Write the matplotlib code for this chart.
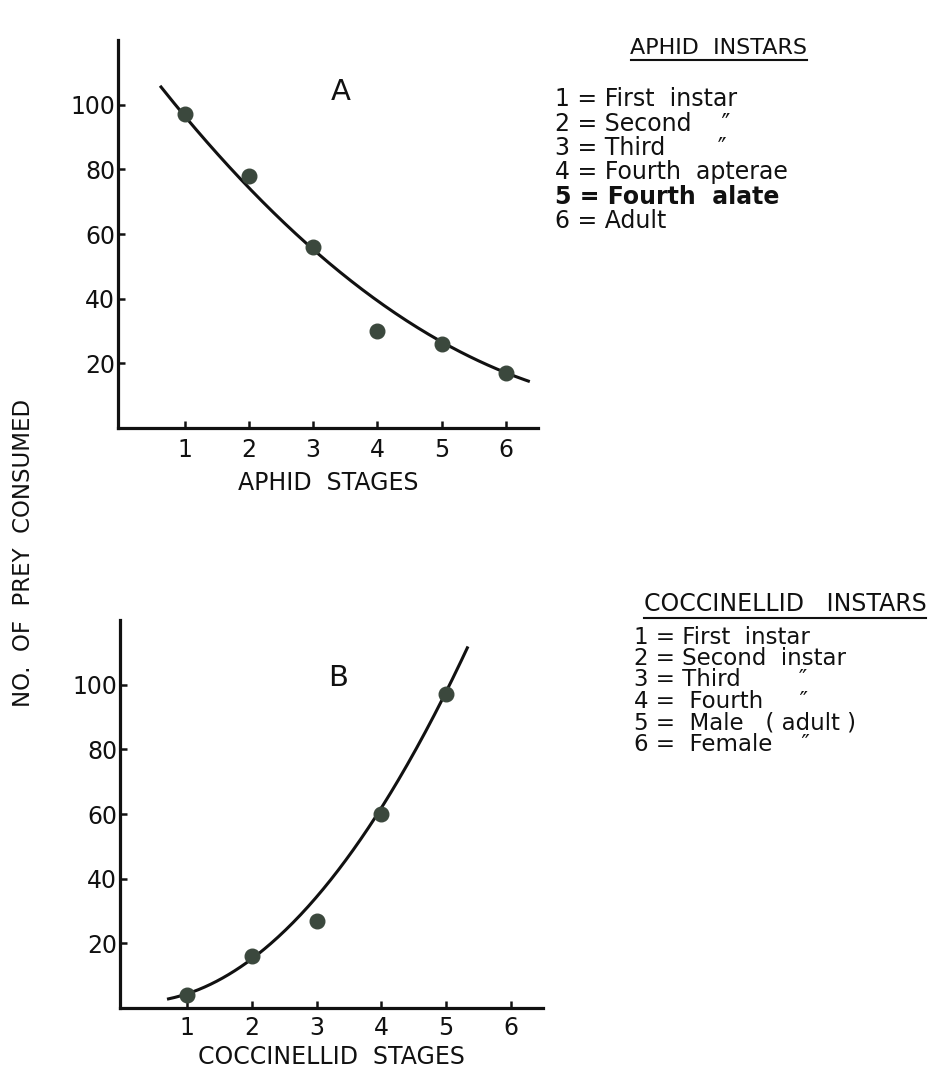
import numpy as np
import matplotlib.pyplot as plt
from matplotlib.lines import Line2D

# Values (stage -> number of prey consumed)
aphid_stage = [1, 2, 3, 4, 5, 6]
aphid_prey = [97, 78, 56, 30, 26, 17]
# points along the hand-drawn fitted curve in panel A
aphid_curve_x = [0.63, 1, 2, 3, 4, 5, 6, 6.35]
aphid_curve_y = [105, 96.5, 75, 55.5, 39, 26, 17, 15]

cocc_stage = [1, 2, 3, 4, 5]
cocc_prey = [4, 16, 27, 60, 97]
# points along the fitted curve in panel B
cocc_curve_x = [0.71, 1, 2, 3, 4, 5, 5.33]
cocc_curve_y = [2.4, 4.7, 15.7, 34, 62, 97, 112]

stage_ticks = [1, 2, 3, 4, 5, 6]
prey_ticks = [20, 40, 60, 80, 100]

aphid_key = ["1 = First  instar", "2 = Second    \u2033", "3 = Third       \u2033",
             "4 = Fourth  apterae", "5 = Fourth  alate", "6 = Adult"]
cocc_key = ["1 = First  instar", "2 = Second  instar", "3 = Third        \u2033",
            "4 =  Fourth     \u2033", "5 =  Male   ( adult )", "6 =  Female    \u2033"]

plt.rcParams['font.family'] = ['DejaVu Sans']
W, H = 951, 1074
fig = plt.figure(figsize=(W / 100, H / 100), dpi=100)
fig.patch.set_facecolor('white')


def box(l, t, r, b):
    return [l / W, 1 - b / H, (r - l) / W, (b - t) / H]


def fpos(x, y):
    return x / W, 1 - y / H


dot_color = '#3b483d'


def panel(ax, xs, ys, cx, cy, letter, lx, ly, xlabel, tpad, lpad):
    coef = np.polyfit(cx, cy, 2)
    xx = np.linspace(cx[0], cx[-1], 200)
    ax.plot(xx, np.polyval(coef, xx), color='#111111', lw=2.2, zorder=2)
    ax.plot(xs, ys, 'o', color=dot_color, ms=10.5, zorder=3)
    ax.set_xlim(-0.04, 6.5)
    ax.set_ylim(0, 120)
    for s in ['top', 'right']:
        ax.spines[s].set_visible(False)
    for s in ['left', 'bottom']:
        ax.spines[s].set_linewidth(2.3)
        ax.spines[s].set_color('#111111')
    ax.set_xticks(stage_ticks)
    ax.set_yticks(prey_ticks)
    ax.tick_params(axis='both', direction='in', length=5, width=1.8,
                   colors='#111111', labelsize=17)
    ax.tick_params(axis='x', pad=tpad)
    ax.tick_params(axis='y', pad=2)
    ax.set_xlabel(xlabel, fontsize=17, labelpad=lpad, color='#111111')
    ax.text(lx, ly, letter, fontsize=21, ha='center', va='center', color='#111111')
    ax.set_facecolor('none')


axA = fig.add_axes(box(118, 40, 538, 428))
panel(axA, aphid_stage, aphid_prey, aphid_curve_x, aphid_curve_y,
      'A', 3.43, 104, 'APHID  STAGES', 7, 7)

axB = fig.add_axes(box(120, 620, 543, 1008))
panel(axB, cocc_stage, cocc_prey, cocc_curve_x, cocc_curve_y,
      'B', 3.34, 102, 'COCCINELLID  STAGES', 6, 3)

fig.text(*fpos(24, 553), 'NO.  OF  PREY  CONSUMED', rotation=90, fontsize=16.5,
         ha='center', va='center', color='#111111')

# keys
headA = fig.text(*fpos(719, 48), 'APHID  INSTARS', fontsize=16, ha='center',
                 va='center', color='#111111')
for i, t in enumerate(aphid_key):
    fig.text(*fpos(555, 99 + i * 24.5), t, fontsize=17, ha='left', va='center',
             color='#111111', fontweight='bold' if i == 4 else 'normal')

headB = fig.text(*fpos(785, 604), 'COCCINELLID   INSTARS', fontsize=17, ha='center',
                 va='center', color='#111111')
for i, t in enumerate(cocc_key):
    fig.text(*fpos(634, 637 + i * 21.5), t, fontsize=16.5, ha='left', va='center',
             color='#111111')

fig.canvas.draw()
r = fig.canvas.get_renderer()
for h in [headA, headB]:
    bb = h.get_window_extent(r).transformed(fig.transFigure.inverted())
    fig.add_artist(Line2D([bb.x0, bb.x1], [bb.y0 - 0.002, bb.y0 - 0.002],
                          transform=fig.transFigure, color='#111111', lw=1.5))

fig.savefig('out.png', dpi=100)
